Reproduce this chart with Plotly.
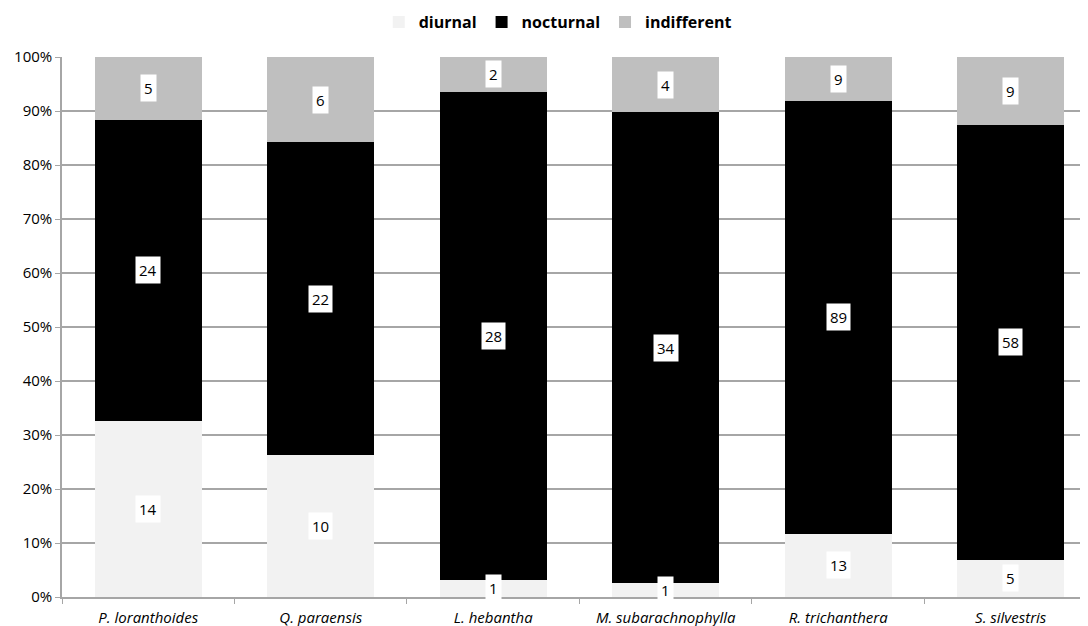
import plotly.graph_objects as go

species = ["P. loranthoides", "Q. paraensis", "L. hebantha",
           "M. subarachnophylla", "R. trichanthera", "S. silvestris"]
diurnal = [14, 10, 1, 1, 13, 5]
nocturnal = [24, 22, 28, 34, 89, 58]
indifferent = [5, 6, 2, 4, 9, 9]
y_ticks = [0, 10, 20, 30, 40, 50, 60, 70, 80, 90, 100]

series = [("diurnal", diurnal, "#F2F2F2"),
          ("nocturnal", nocturnal, "#000000"),
          ("indifferent", indifferent, "#BFBFBF")]

totals = [d + n + i for d, n, i in zip(diurnal, nocturnal, indifferent)]
FONT = "Open Sans, Liberation Sans, sans-serif"

fig = go.Figure()
annotations = []
base = [0.0] * len(species)
for name, vals, color in series:
    pct = [v / t * 100 for v, t in zip(vals, totals)]
    fig.add_trace(go.Bar(
        name=name, x=species, y=pct, marker=dict(color=color, line=dict(width=0)),
        width=0.62, hoverinfo="skip"))
    for k, (v, p) in enumerate(zip(vals, pct)):
        annotations.append(dict(
            x=species[k], y=base[k] + p / 2, xref="x", yref="y",
            text=str(v), showarrow=False, bgcolor="white",
            font=dict(family=FONT, size=15, color="#000"),
            borderpad=3))
        base[k] += p

fig.update_layout(
    barmode="stack",
    width=1080, height=618,
    paper_bgcolor="white", plot_bgcolor="white",
    margin=dict(l=54, r=0, t=49, b=29, autoexpand=False),
    annotations=annotations,
    legend=dict(orientation="h", x=0.509, xanchor="center", xref="container",
                y=0.977, yanchor="middle", yref="container",
                font=dict(family=FONT, size=16, color="#000", weight="bold"),
                itemwidth=30, traceorder="normal", itemclick=False),
    showlegend=True,
    font=dict(family=FONT),
)
fig.update_xaxes(
    range=[-0.5, 5.448], showgrid=False, showline=True, linecolor="#A6A6A6", linewidth=1.5,
    ticks="outside", tickcolor="#A6A6A6", ticklen=5, tickson="boundaries", automargin=False,
    ticklabelstandoff=6,
    tickfont=dict(family=FONT, size=15, color="#000", style="italic"),
)
fig.update_yaxes(
    range=[0, 100], tickvals=y_ticks, ticktext=[f"{v}%" for v in y_ticks],
    showgrid=True, gridcolor="#A6A6A6", gridwidth=1.5, automargin=False,
    showline=True, linecolor="#A6A6A6", linewidth=1.5,
    ticks="outside", tickcolor="#A6A6A6", ticklen=5,
    tickfont=dict(family=FONT, size=15, color="#000"),
    zeroline=False,
)
fig.write_html("out.html")
